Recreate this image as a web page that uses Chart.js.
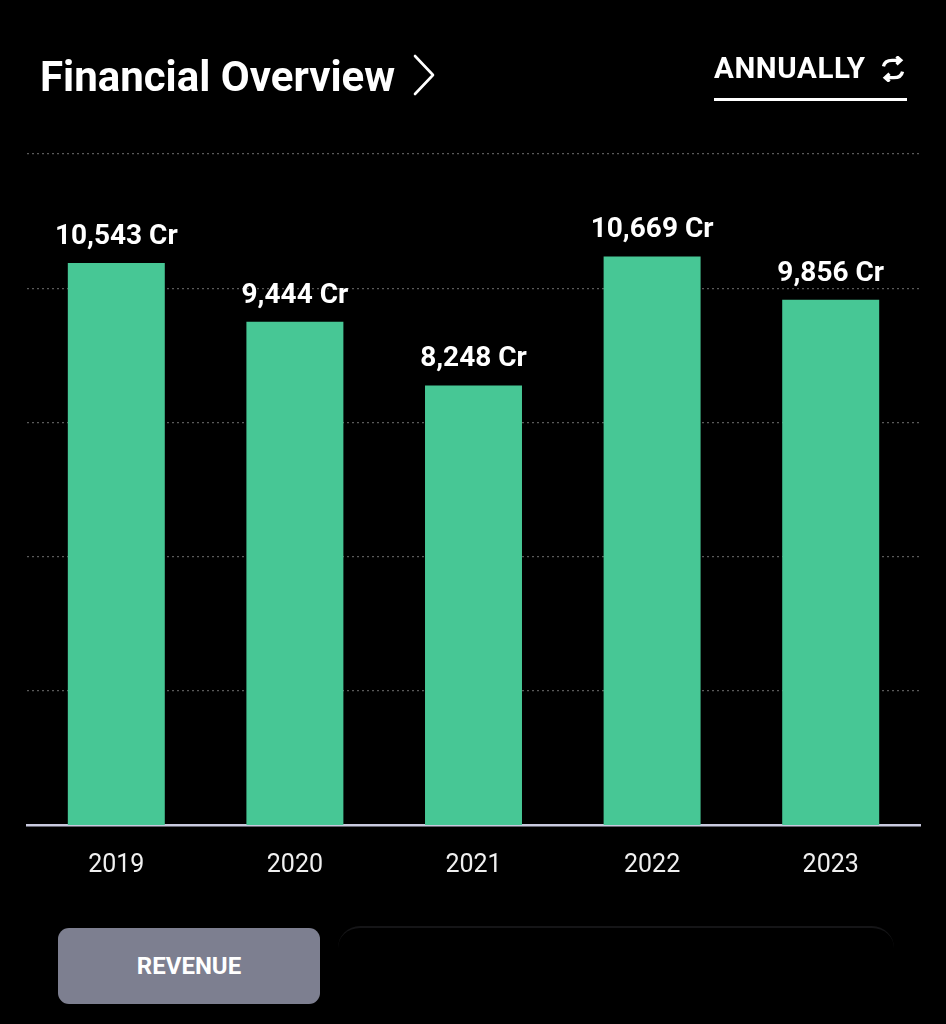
<!DOCTYPE html>
<html>
<head>
<meta charset="utf-8">
<script src="https://cdn.jsdelivr.net/npm/chart.js@4.4.1/dist/chart.umd.min.js"></script>
<style>
  html, body { margin: 0; padding: 0; background: #000; width: 946px; height: 1024px; overflow: hidden; font-family: Roboto, "Noto Sans", sans-serif; }
  #wrap { position: relative; width: 946px; height: 1024px; }
  #c { position: absolute; left: 0; top: 0; }
  .title { position: absolute; left: 40px; top: 52px; color: #fff; font: 700 42px Roboto, sans-serif; line-height: 50px; white-space: nowrap; }
  .chev { position: absolute; left: 410px; top: 52px; }
  .ann { position: absolute; left: 714px; top: 50px; color: #fff; font: 700 29.5px Roboto, sans-serif; letter-spacing: 0.6px; line-height: 36px; white-space: nowrap; }
  .refresh { position: absolute; left: 879px; top: 56px; }
  .uline { position: absolute; left: 714px; top: 98px; width: 193px; height: 3px; background: #fff; }
  .btn { position: absolute; left: 58px; top: 928px; width: 262px; height: 76px; border-radius: 11px; background: #7d7f90; color: #fff; font: 700 24px Roboto, sans-serif; display: flex; align-items: center; justify-content: center; }
  .btn2 { position: absolute; left: 338px; top: 926px; width: 556px; height: 80px; border-radius: 22px; border-top: 2px solid #151517; box-sizing: border-box; }
</style>
</head>
<body>
<div id="wrap">
  <canvas id="c" width="946" height="1024"></canvas>
  <div class="title">Financial Overview</div>
  <svg class="chev" width="30" height="46" viewBox="0 0 30 46"><polyline points="5,4 23,23 5,42" fill="none" stroke="#fff" stroke-width="2.6" stroke-linecap="round" stroke-linejoin="round"/></svg>
  <div class="ann">ANNUALLY</div>
  <svg class="refresh" width="28" height="26" viewBox="0 0 32 30">
    <path d="M5 12 C6 7 10 5 15 5 L25 5" fill="none" stroke="#fff" stroke-width="3.8"/>
    <polyline points="20,0.5 25,5 20,9.5" fill="none" stroke="#fff" stroke-width="3.8"/>
    <path d="M27 18 C26 23 22 25 17 25 L7 25" fill="none" stroke="#fff" stroke-width="3.8"/>
    <polyline points="12,20.5 7,25 12,29.5" fill="none" stroke="#fff" stroke-width="3.8"/>
  </svg>
  <div class="uline"></div>
  <div class="btn2"></div>
  <div class="btn">REVENUE</div>
</div>
<script>
const categories = ["2019", "2020", "2021", "2022", "2023"];
const revenue = [10543, 9444, 8248, 10669, 9856];
const gridMax = 12500;
const gridStep = 2500;
const barScaleMax = 12590;
const valueSuffix = " Cr";

const barLabels = {
  id: 'barLabels',
  afterDatasetsDraw(chart) {
    const ctx = chart.ctx;
    const meta = chart.getDatasetMeta(0);
    ctx.save();
    ctx.fillStyle = '#ffffff';
    ctx.font = '700 28px Roboto, sans-serif';
    ctx.textAlign = 'center';
    ctx.textBaseline = 'alphabetic';
    meta.data.forEach((bar, i) => {
      const v = chart.data.datasets[0].data[i];
      ctx.fillText(v.toLocaleString('en-US') + valueSuffix, bar.x, bar.y - 19);
    });
    ctx.restore();
  }
};

new Chart(document.getElementById('c'), {
  type: 'bar',
  data: {
    labels: categories,
    datasets: [{
      data: revenue,
      yAxisID: 'yBars',
      backgroundColor: '#47c795',
      borderWidth: 0,
      barPercentage: 0.543,
      categoryPercentage: 1.0
    }]
  },
  options: {
    responsive: false,
    animation: false,
    devicePixelRatio: 1,
    layout: { padding: { top: 154, left: 27, right: 26, bottom: 139 } },
    plugins: { legend: { display: false }, tooltip: { enabled: false } },
    scales: {
      x: {
        grid: { display: false },
        border: { display: true, color: '#c9cadf', width: 2.5 },
        ticks: { color: '#f0f0f0', font: { family: 'Roboto', size: 25 }, padding: 18 },
        afterFit: s => { s.height = 60; }
      },
      y: {
        min: 0,
        max: gridMax,
        ticks: { display: false, stepSize: gridStep },
        border: { display: false, dash: [2, 3] },
        grid: { color: '#5a5a5a', lineWidth: 1.2, drawTicks: false },
        afterFit: s => { s.width = 0; }
      },
      yBars: {
        display: false,
        min: 0,
        max: barScaleMax
      }
    }
  },
  plugins: [barLabels]
});
</script>
</body>
</html>
